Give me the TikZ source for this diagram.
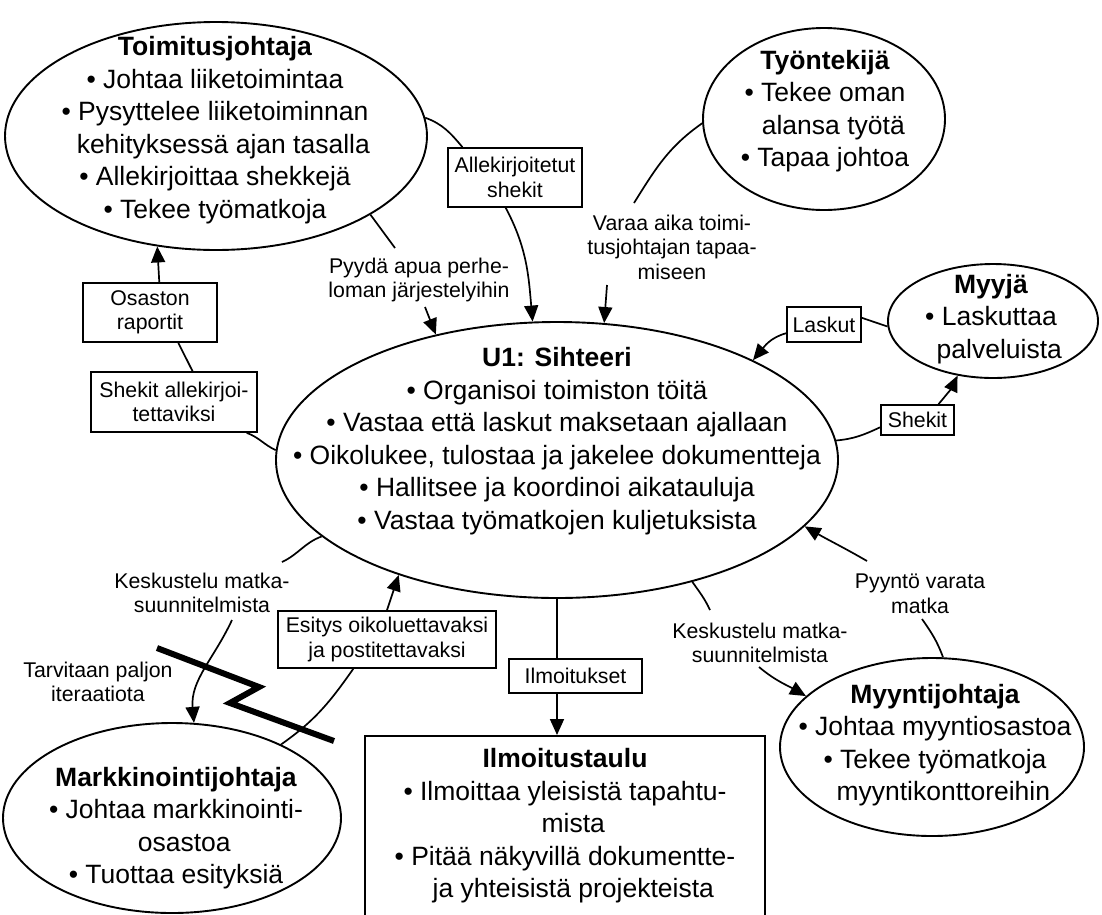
\documentclass[tikz,border=0pt]{standalone}
\usepackage{fontspec}
\setmainfont{Liberation Sans}
\usetikzlibrary{shapes.geometric,arrows.meta}
% keeps continuation lines centred under the text after a bullet
\newcommand\bph{\hphantom{\textbullet\ }}
\begin{document}
\begin{tikzpicture}[x=1pt,y=-1pt,
  line width=1.7pt,
  ell/.style={draw, ellipse, inner sep=0pt, line width=1.9pt},
  box/.style={draw, rectangle, inner sep=0pt, line width=1.7pt,
    font=\fontsize{21.3}{24.5}\selectfont, align=center},
  body/.style={font=\fontsize{26.5}{32.5}\selectfont, align=center, inner sep=0pt},
  lab/.style={font=\fontsize{21.3}{24.5}\selectfont, align=center, inner sep=0pt},
  flow/.style={-{Triangle[length=16pt,width=14pt]}}
]
\useasboundingbox (0,0) rectangle (1102,914);
\clip (0,0) rectangle (1102,914);
\fill[white] (0,0) rectangle (1102,914);

% ---- actors ----
\node[ell, minimum width=422pt, minimum height=228pt] (toim) at (216,136) {};
\node[body] (toimT) at (215,130) {\textbf{Toimitusjohtaja}\\
  \textbullet\ Johtaa liiketoimintaa\\
  \textbullet\ Pysyttelee liiketoiminnan\\
  \bph kehityksessä ajan tasalla\\
  \textbullet\ Allekirjoittaa shekkejä\\
  \textbullet\ Tekee työmatkoja};

\node[ell, minimum width=242pt, minimum height=182pt] (tyo) at (824,119) {};
\node[body] (tyoT) at (825,111) {\textbf{Työntekijä}\\
  \textbullet\ Tekee oman\\
  \bph alansa työtä\\
  \textbullet\ Tapaa johtoa};

\node[ell, minimum width=210pt, minimum height=114pt] (myyja) at (993,321) {};
\node[body] (myyjaT) at (991,319) {\textbf{Myyjä}\\
  \textbullet\ Laskuttaa\\
  \bph palveluista};

\node[ell, minimum width=562pt, minimum height=276pt] (sih) at (557,460) {};
\node[body] (sihT) at (557,441) {\textbf{U1: Sihteeri}\\
  \textbullet\ Organisoi toimiston töitä\\
  \textbullet\ Vastaa että laskut maksetaan ajallaan\\
  \textbullet\ Oikolukee, tulostaa ja jakelee dokumentteja\\
  \textbullet\ Hallitsee ja koordinoi aikatauluja\\
  \textbullet\ Vastaa työmatkojen kuljetuksista};

\node[ell, minimum width=338pt, minimum height=190pt] (mark) at (172,818) {};
\node[body] (markT) at (176,828) {\textbf{Markkinointijohtaja}\\
  \textbullet\ Johtaa markkinointi-\\
  \bph osastoa\\
  \textbullet\ Tuottaa esityksiä};

\node[ell, minimum width=304pt, minimum height=178pt] (myynti) at (932,747) {};
\node[body] (myyntiT) at (935,745) {\textbf{Myyntijohtaja}\\
  \textbullet\ Johtaa myyntiosastoa\\
  \textbullet\ Tekee työmatkoja\\
  \bph myyntikonttoreihin};

\node[draw, rectangle, line width=1.9pt, minimum width=400pt, minimum height=200pt,
  anchor=north] (taulu) at (565,735) {};
\node[body] (tauluT) at (565,826) {\textbf{Ilmoitustaulu}\\
  \textbullet\ Ilmoittaa yleisistä tapahtu-\\
  \bph mista\\
  \textbullet\ Pitää näkyvillä dokumentte-\\
  \bph ja yhteisistä projekteista};

% ---- data boxes ----
\node[box, minimum width=134pt, minimum height=59pt] (allek) at (515,177.5) {Allekirjoitetut\\shekit};
\node[box, minimum width=134pt, minimum height=59pt] (osasto) at (150,312.5) {Osaston\\raportit};
\node[box, minimum width=166pt, minimum height=60pt] (shekA) at (174,402) {Shekit allekirjoi-\\tettaviksi};
\node[box, minimum width=74pt, minimum height=35pt] (laskut) at (824,324.5) {Laskut};
\node[box, minimum width=73pt, minimum height=30pt] (shekit) at (917.5,420) {Shekit};
\node[box, minimum width=218pt, minimum height=57pt] (esitys) at (387,639.5) {Esitys oikoluettavaksi\\ja postitettavaksi};
\node[box, minimum width=133pt, minimum height=34pt] (ilmb) at (575.5,676) {Ilmoitukset};

% ---- free labels ----
\node[lab] (pyyda) at (419,280) {Pyydä apua perhe-\\loman järjestelyihin};
\node[lab] (varaa) at (672,247) {Varaa aika toimi-\\tusjohtajan tapaa-\\miseen};
\node[lab] (keskL) at (202,593) {Keskustelu matka-\\suunnitelmista};
\node[lab] (tarv) at (98,682) {Tarvitaan paljon\\iteraatiota};
\node[lab] (keskR) at (760,643) {Keskustelu matka-\\suunnitelmista};
\node[lab] (pyynto) at (920,594) {Pyyntö varata\\matka};

% loose ends of the labelled flows
\coordinate (pA) at (395,248);
\coordinate (pB) at (425,307);
\coordinate (vA) at (634,203);
\coordinate (vB) at (607,285);
\coordinate (kLA) at (282,562);
\coordinate (kLB) at (232,620);
\coordinate (kRA) at (710,610);
\coordinate (kRB) at (759,667);
\coordinate (ppA) at (922,619);
\coordinate (ppB) at (867,561);

% ---- flows ----
\draw (toim.5) to[out=-20, in=130] (allek.150);
\draw[flow] (allek.253) to[out=-62, in=95] (sih.100);

\draw (toim.-27.5) -- (pA);
\draw[flow] (pB) -- (sih.134);

\draw (tyo.182) to[out=215, in=58] (vA);
\draw[flow] (vB) -- (sih.71);

\draw (myyja.183) -- (laskut.10);
\draw[flow] (laskut.193) to[out=195, in=50] (sih.27);

\draw (sih.4) to[out=5, in=205] (shekit.191);
\draw[flow] (shekit.37.6) to[out=50, in=245] (myyja.237);

\draw (sih.178) to[out=155, in=-20] (shekA.-23.5);
\draw (shekA.59) -- (osasto.-47.5);
\draw[flow] (osasto.73) -- (toim.242);

\draw (sih.198.6) to[out=200, in=25] (kLA);
\draw[flow] (kLB) to[out=-115, in=95] (mark.77.5);

\draw[line width=6pt, line join=miter] (157,648) -- (259,687) -- (230,703) -- (334,741);

\draw (mark.34.8) to[out=35, in=235] (esitys.221.7);
\draw[flow] (esitys.north) -- (sih.216);

\draw (sih.south) -- (sih.south |- ilmb.north);
\draw[flow] (sih.south |- ilmb.south) -- (sih.south |- taulu.north);

\draw (sih.318.3) to[out=-55, in=115] (kRA);
\draw[flow] (kRB) to[out=-40, in=150] (myynti.158.9);

\draw (myynti.83) to[out=110, in=-55] (ppA);
\draw[flow] (ppB) to[out=150, in=-30] (sih.345);
\end{tikzpicture}
\end{document}
